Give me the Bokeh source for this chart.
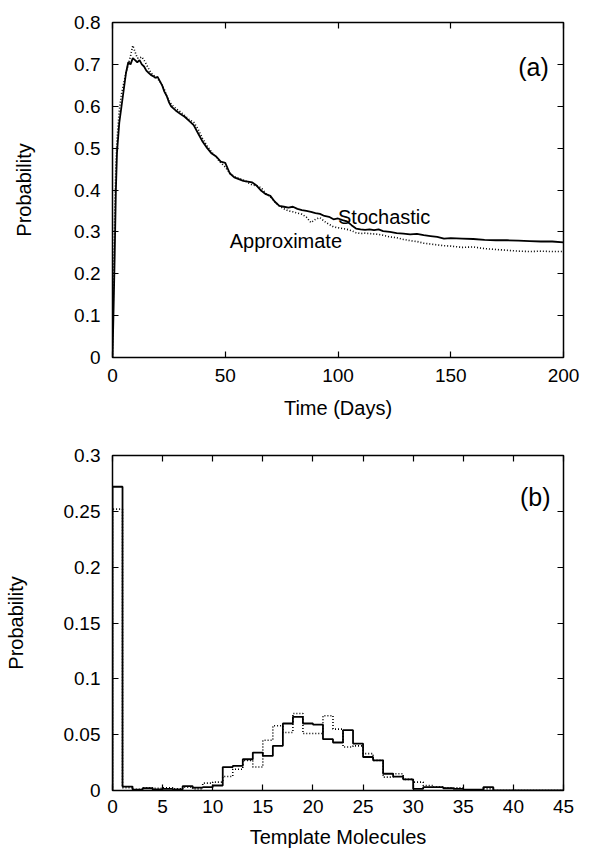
import numpy as np
from bokeh.plotting import figure
from bokeh.layouts import column
from bokeh.models import Range1d, LinearAxis, FixedTicker, Label, CustomJSTickFormatter
from bokeh.embed import file_html
from bokeh.resources import INLINE

# ---------------- data: panel (a) ----------------
time_days = [0, 0.5, 1, 1.5, 2, 3, 4, 5, 6, 7, 8, 9, 10, 11, 12, 13, 14, 15, 16, 17, 18, 19, 20,
             21, 22, 23, 24, 25, 26, 27, 28, 30, 32, 34, 36, 38, 40, 42, 44, 46, 48, 50, 52, 54,
             56, 58, 60, 62, 64, 66, 68, 70, 72, 74, 76, 78, 80, 82, 84, 86, 88, 90, 92, 94, 96,
             98, 100, 102, 104, 106, 108, 110, 112, 114, 116, 118, 120, 123, 126, 129, 132, 135,
             138, 141, 144, 147, 150, 155, 160, 165, 170, 175, 180, 185, 190, 195, 200]

stochastic = [0, 0.12, 0.25, 0.40, 0.49, 0.56, 0.60, 0.64, 0.68, 0.705, 0.70, 0.715, 0.71, 0.705,
              0.71, 0.70, 0.695, 0.685, 0.68, 0.675, 0.672, 0.668, 0.670, 0.66, 0.65, 0.635, 0.625,
              0.61, 0.60, 0.595, 0.59, 0.582, 0.575, 0.565, 0.555, 0.535, 0.515, 0.50, 0.487, 0.48,
              0.468, 0.465, 0.44, 0.43, 0.426, 0.422, 0.420, 0.418, 0.41, 0.398, 0.39, 0.386, 0.372,
              0.362, 0.36, 0.358, 0.36, 0.355, 0.352, 0.35, 0.348, 0.345, 0.343, 0.338, 0.336, 0.33,
              0.332, 0.328, 0.325, 0.316, 0.308, 0.306, 0.305, 0.306, 0.304, 0.306, 0.302, 0.300,
              0.297, 0.296, 0.294, 0.295, 0.292, 0.290, 0.288, 0.284, 0.285, 0.284, 0.283, 0.281,
              0.280, 0.280, 0.279, 0.278, 0.277, 0.277, 0.275]

approximate = [0, 0.2, 0.35, 0.46, 0.52, 0.59, 0.63, 0.655, 0.68, 0.70, 0.72, 0.745, 0.73, 0.715,
               0.715, 0.718, 0.71, 0.70, 0.69, 0.68, 0.675, 0.67, 0.665, 0.66, 0.65, 0.64, 0.625,
               0.615, 0.605, 0.60, 0.595, 0.587, 0.578, 0.568, 0.562, 0.545, 0.522, 0.505, 0.49,
               0.478, 0.465, 0.455, 0.44, 0.432, 0.428, 0.424, 0.418, 0.412, 0.41, 0.405, 0.392,
               0.383, 0.372, 0.362, 0.355, 0.35, 0.348, 0.345, 0.342, 0.335, 0.322, 0.33, 0.334,
               0.325, 0.318, 0.312, 0.31, 0.308, 0.306, 0.303, 0.298, 0.296, 0.297, 0.296, 0.295,
               0.294, 0.292, 0.288, 0.286, 0.282, 0.279, 0.277, 0.273, 0.271, 0.269, 0.267, 0.266,
               0.263, 0.264, 0.260, 0.258, 0.256, 0.254, 0.253, 0.254, 0.253, 0.253]

# ---------------- data: panel (b) ----------------
hist_stochastic = [0.272, 0.0035, 0.0008, 0.002, 0.001, 0.0015, 0.001, 0.004, 0.0025, 0.003,
                   0.0045, 0.021, 0.022, 0.028, 0.034, 0.031, 0.040, 0.060, 0.066, 0.060,
                   0.059, 0.046, 0.043, 0.054, 0.042, 0.030, 0.027, 0.015, 0.0125, 0.010,
                   0.0015, 0.003, 0.003, 0.002, 0.0015, 0.0008, 0.0008, 0.003]
hist_approximate = [0.252, 0.0025, 0.001, 0.0025, 0.002, 0.0025, 0.0015, 0.003, 0.0015, 0.0066,
                    0.0075, 0.0125, 0.019, 0.027, 0.021, 0.045, 0.058, 0.052, 0.069, 0.051,
                    0.051, 0.067, 0.055, 0.039, 0.040, 0.033, 0.027, 0.012, 0.015, 0.010,
                    0.0075, 0.0045, 0.003, 0.0025, 0.0025, 0.0007, 0.0007, 0.0015]

xticks_a = [0, 50, 100, 150, 200]
yticks_a = [0, 0.1, 0.2, 0.3, 0.4, 0.5, 0.6, 0.7, 0.8]
xticks_b = [0, 5, 10, 15, 20, 25, 30, 35, 40, 45]
yticks_b = [0, 0.05, 0.1, 0.15, 0.2, 0.25, 0.3]

FONT = "Liberation Sans"
TICK_SIZE = "19px"
LABEL_SIZE = "20px"

fmt = CustomJSTickFormatter(code="return String(Math.round(tick*1000)/1000);")


def style(p, xt, yt, xlabel, ylabel, xstand, ystand, xls, yls):
    p.outline_line_color = "black"
    p.outline_line_width = 1.5
    p.grid.visible = False
    p.background_fill_color = "white"
    p.border_fill_color = "white"
    for ax in p.xaxis:
        ax.ticker = FixedTicker(ticks=xt)
        ax.axis_label = xlabel
        ax.major_label_standoff = xstand
        ax.axis_label_standoff = xls
    for ax in p.yaxis:
        ax.ticker = FixedTicker(ticks=yt)
        ax.axis_label = ylabel
        ax.major_label_standoff = ystand
        ax.axis_label_standoff = yls
        ax.formatter = fmt
    for ax in list(p.xaxis) + list(p.yaxis):
        ax.major_tick_in = 6
        ax.major_tick_out = 0
        ax.minor_tick_in = 0
        ax.minor_tick_out = 0
        ax.axis_line_color = None
        ax.major_tick_line_color = "black"
        ax.major_tick_line_width = 1.2
        ax.major_label_text_font = FONT
        ax.major_label_text_font_size = TICK_SIZE
        ax.major_label_text_color = "black"
        ax.axis_label_text_font = FONT
        ax.axis_label_text_font_size = LABEL_SIZE
        ax.axis_label_text_font_style = "normal"
        ax.axis_label_text_color = "black"
    # mirrored ticks (no labels)
    for loc, tk in (("above", xt), ("right", yt)):
        m = LinearAxis(ticker=FixedTicker(ticks=tk), major_tick_in=6, major_tick_out=0,
                       minor_tick_in=0, minor_tick_out=0, axis_line_color=None,
                       major_tick_line_color="black", major_tick_line_width=1.2,
                       major_label_text_color=None, major_label_standoff=0)
        p.add_layout(m, loc)


# ---------------- panel (a) ----------------
p1 = figure(width=589, height=425, output_backend="svg", toolbar_location=None,
            x_range=Range1d(0, 200), y_range=Range1d(0, 0.8),
            min_border_left=105, min_border_right=21, min_border_top=22, min_border_bottom=68)
style(p1, xticks_a, yticks_a, "Time (Days)", "Probability", 11, 12, 12, 36)
p1.line(time_days, approximate, line_color="black", line_width=1.6, line_dash="1 2")
p1.line(time_days, stochastic, line_color="black", line_width=1.8)
p1.add_layout(Label(x=100, y=0.335, text="Stochastic", text_font=FONT, text_font_size=LABEL_SIZE,
                    text_align="left", text_baseline="alphabetic", text_color="black"))
p1.add_layout(Label(x=52, y=0.278, text="Approximate", text_font=FONT, text_font_size=LABEL_SIZE,
                    text_align="left", text_baseline="alphabetic", text_color="black"))
p1.add_layout(Label(x=193.5, y=0.693, text="(a)", text_font=FONT, text_font_size="25px",
                    text_align="right", text_baseline="alphabetic", text_color="black"))

# ---------------- panel (b) ----------------
def step_xy(vals):
    v = np.asarray(vals, dtype=float)
    n = len(v)
    edges = np.arange(n + 1)
    xs = np.concatenate([[0.0], np.repeat(edges, 2)[1:-1], [float(n), 45.0]])
    ys = np.concatenate([[0.0], np.repeat(v, 2), [0.0, 0.0]])
    return xs, ys


p2 = figure(width=589, height=425, output_backend="svg", toolbar_location=None,
            x_range=Range1d(0, 45), y_range=Range1d(0, 0.3),
            min_border_left=112, min_border_right=26, min_border_top=30, min_border_bottom=60)
style(p2, xticks_b, yticks_b, "Template Molecules", "Probability", 9, 12, 10, 34)
xa, ya = step_xy(hist_approximate)
xs_, ys_ = step_xy(hist_stochastic)
p2.line(xa, ya, line_color="black", line_width=1.6, line_dash="1 2")
p2.line(xs_, ys_, line_color="black", line_width=1.8)
p2.add_layout(Label(x=43.7, y=0.2627, text="(b)", text_font=FONT, text_font_size="25px",
                    text_align="right", text_baseline="alphabetic", text_color="black"))

layout = column(p1, p2, spacing=0)
open("out.html", "w").write(file_html(layout, INLINE))
